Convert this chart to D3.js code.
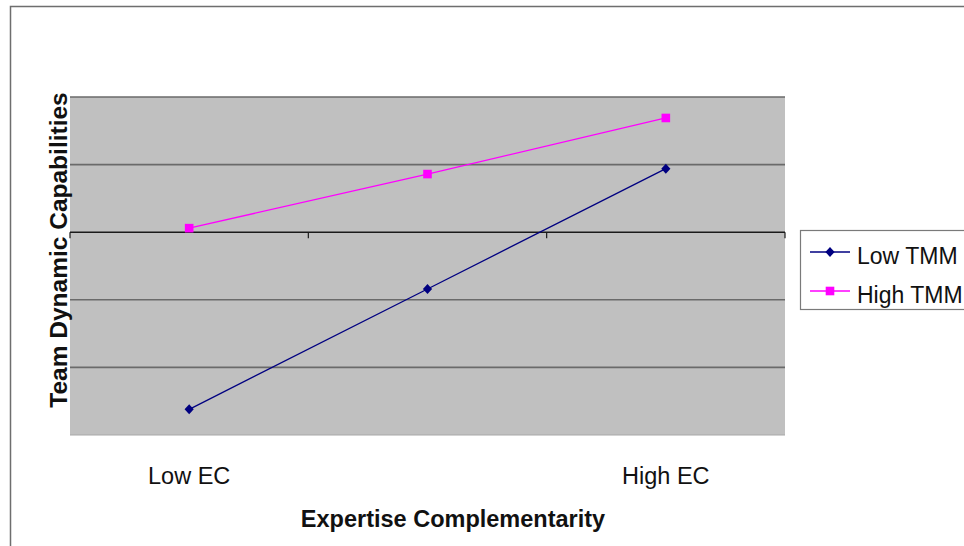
<!DOCTYPE html>
<html>
<head>
<meta charset="utf-8">
<script src="https://cdn.jsdelivr.net/npm/d3@7"></script>
<style>
  html, body { margin: 0; padding: 0; background: #ffffff; }
  svg { display: block; font-family: "Liberation Sans", Arial, sans-serif; }
</style>
</head>
<body>
<svg id="chart" width="964" height="546"></svg>
<script>
// Interaction plot: team dynamic capabilities by expertise complementarity
const categories = ["Low EC", "", "High EC"];
const seriesNames = ["Low TMM", "High TMM"];
const lowTMM = [-2.62, -0.84, 0.94];
const highTMM = [0.06, 0.86, 1.69];
const yTicks = [-3, -2, -1, 0, 1, 2];

const svg = d3.select("#chart");
const plot = { left: 70, right: 785, top: 97, bottom: 435 };

// Outer chart border (runs off the right and bottom edges)
svg.append("rect")
  .attr("x", 10.5).attr("y", 6.5)
  .attr("width", 962).attr("height", 546)
  .attr("fill", "#ffffff")
  .attr("stroke", "#6e6e6e").attr("stroke-width", 1.5);

const x = d3.scaleBand().domain(categories).range([plot.left, plot.right]).padding(0);
const y = d3.scaleLinear().domain([d3.min(yTicks), d3.max(yTicks)]).range([plot.bottom, plot.top]);
const cx = c => x(c) + x.bandwidth() / 2;

// Plot area
svg.append("rect")
  .attr("x", plot.left).attr("y", plot.top)
  .attr("width", plot.right - plot.left).attr("height", plot.bottom - plot.top)
  .attr("fill", "#c0c0c0");

// Horizontal gridlines
svg.append("g").selectAll("line")
  .data(yTicks.filter(v => v !== 0))
  .join("line")
  .attr("x1", plot.left).attr("x2", plot.right)
  .attr("y1", d => y(d)).attr("y2", d => y(d))
  .attr("stroke", d => d === d3.min(yTicks) ? "#a8a8a8" : "#6a6a6a")
  .attr("stroke-width", d => d === d3.min(yTicks) ? 1 : 1.6);

// Category axis crossing at zero
const axisY = y(0);
const bounds = categories.map(c => x(c)).concat([plot.right]);
const axisG = svg.append("g");
axisG.append("line")
  .attr("x1", plot.left).attr("x2", plot.right)
  .attr("y1", axisY).attr("y2", axisY)
  .attr("stroke", "#1a1a1a").attr("stroke-width", 1.4);
axisG.selectAll("line.tick")
  .data(bounds)
  .join("line")
  .attr("class", "tick")
  .attr("x1", d => d).attr("x2", d => d)
  .attr("y1", axisY).attr("y2", axisY + 6)
  .attr("stroke", "#1a1a1a").attr("stroke-width", 1.2);

// Category labels below the plot
svg.append("g").selectAll("text")
  .data(categories)
  .join("text")
  .attr("x", d => cx(d))
  .attr("y", 484)
  .attr("text-anchor", "middle")
  .attr("font-size", 23.5)
  .attr("fill", "#111")
  .text(d => d);

// Axis titles
svg.append("text")
  .attr("x", 453).attr("y", 527)
  .attr("text-anchor", "middle")
  .attr("font-size", 23.5).attr("font-weight", "bold")
  .attr("fill", "#111")
  .text("Expertise Complementarity");

svg.append("text")
  .attr("transform", "translate(67,250) rotate(-90)")
  .attr("text-anchor", "middle")
  .attr("font-size", 24.5).attr("font-weight", "bold")
  .attr("fill", "#111")
  .text("Team Dynamic Capabilities");

// Series
const series = [
  { name: seriesNames[0], values: lowTMM, color: "#000080", marker: "diamond" },
  { name: seriesNames[1], values: highTMM, color: "#ff00ff", marker: "square" }
];

const line = d3.line().x((d, i) => cx(categories[i])).y(d => y(d));

function drawMarker(g, type, color) {
  if (type === "diamond") {
    g.append("path").attr("d", "M0,-5 L4.6,0 L0,5 L-4.6,0Z").attr("fill", color);
  } else {
    g.append("rect").attr("x", -4.3).attr("y", -4.3).attr("width", 8.6).attr("height", 8.6).attr("fill", color);
  }
}

series.forEach(s => {
  svg.append("path")
    .datum(s.values)
    .attr("d", line)
    .attr("fill", "none")
    .attr("stroke", s.color)
    .attr("stroke-width", 1.3);
  s.values.forEach((v, i) => {
    const g = svg.append("g").attr("transform", `translate(${cx(categories[i])},${y(v)})`);
    drawMarker(g, s.marker, s.color);
  });
});

// Legend
const legend = svg.append("g");
legend.append("rect")
  .attr("x", 800.5).attr("y", 230.5)
  .attr("width", 200).attr("height", 79)
  .attr("fill", "#ffffff")
  .attr("stroke", "#7a7a7a").attr("stroke-width", 1.2);
series.forEach((s, i) => {
  const ly = 252 + i * 39;
  legend.append("line")
    .attr("x1", 810).attr("x2", 850)
    .attr("y1", ly).attr("y2", ly)
    .attr("stroke", s.color).attr("stroke-width", 1.3);
  const g = legend.append("g").attr("transform", `translate(830,${ly})`);
  drawMarker(g, s.marker, s.color);
  legend.append("text")
    .attr("x", 857).attr("y", ly + 12)
    .attr("font-size", 23)
    .attr("fill", "#111")
    .text(s.name);
});
</script>
</body>
</html>
